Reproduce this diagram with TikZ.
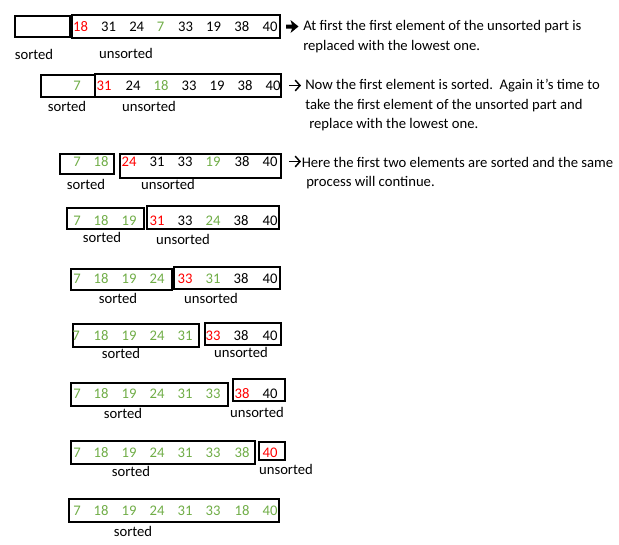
\documentclass[tikz,border=0pt]{standalone}
\usepackage{fontspec}
\setmainfont{Carlito}
\usetikzlibrary{fit,arrows.meta}
\definecolor{grn}{RGB}{112,173,71}
\definecolor{rd}{RGB}{255,0,0}
\begin{document}
\begin{tikzpicture}[x=0.75pt,y=-0.75pt,
  font=\fontsize{11}{13}\selectfont,
  box/.style={draw, line width=0.8pt, inner sep=0pt},
  num/.style={inner sep=0pt},
  lbl/.style={inner sep=0pt},
  note/.style={inner sep=0pt, anchor=west},
  thinarrow/.style={line width=1.1pt, -{Straight Barb[length=3.6pt,width=8pt,line width=1.1pt]}}]
\useasboundingbox (0,0) rectangle (619,544);

% ---------- row 1 ----------
\node[box, fit={(15,16) (70,37)}] (s1) {};
\node[box, fit={(72,15) (280,38)}] (u1) {};
\foreach \x/\c/\n [count=\i] in {80.5/rd/18,108.5/black/31,136.7/black/24,160.5/grn/7,185.5/black/33,213.5/black/19,241.8/black/38,270/black/40}
  \node[num, text=\c] (r1n\i) at (\x,27) {\n};
\node[lbl] (s1l) at (34,54) {sorted};
\node[lbl] (u1l) at (126,53) {unsorted};
\coordinate (a1) at (286,26.5);
\fill (a1) ++(0,-2) -- ++(6,0) -- ++(-1.5,-4.5) -- ++(8,6.5) -- ++(-8,6.5) -- ++(1.5,-4.5) -- ++(-6,0) -- cycle;
\node[note] (t1a) at (303,27) {At first the first element of the unsorted part is};
\node[note] (t1b) at (303,47) {replaced with the lowest one.};

% ---------- row 2 ----------
\node[box, fit={(41,75) (95,97)}] (s2) {};
\node[box, fit={(95,74) (281,97)}] (u2) {};
\foreach \x/\c/\n [count=\i] in {77/grn/7,104/rd/31,133/black/24,161/grn/18,189/black/33,217/black/19,245/black/38,273/black/40}
  \node[num, text=\c] (r2n\i) at (\x,86) {\n};
\node[lbl] (s2l) at (67,106) {sorted};
\node[lbl] (u2l) at (149,106) {unsorted};
\coordinate (a2s) at (289,85.5);
\coordinate (a2e) at (301,85.5);
\draw[thinarrow] (a2s) -- (a2e);
\node[note] (t2a) at (305,86) {Now the first element is sorted.\ \ Again it’s time to};
\node[note] (t2b) at (305,106) {take the first element of the unsorted part and};
\node[note] (t2c) at (309,125) {replace with the lowest one.};

% ---------- row 3 ----------
\node[box, fit={(60,154) (114,174)}] (s3) {};
\node[box, fit={(120,154) (281,178)}] (u3) {};
\foreach \x/\c/\n [count=\i] in {77/grn/7,101/grn/18,129/rd/24,157/black/31,185/black/33,213/grn/19,242/black/38,270/black/40}
  \node[num, text=\c] (r3n\i) at (\x,162) {\n};
\node[lbl] (s3l) at (86,184) {sorted};
\node[lbl] (u3l) at (168,184) {unsorted};
\coordinate (a3s) at (289,161.5);
\coordinate (a3e) at (301,161.5);
\draw[thinarrow] (a3s) -- (a3e);
\node[note] (t3a) at (301.5,162) {Here the first two elements are sorted and the same};
\node[note] (t3b) at (306,183) {process will continue.};

% ---------- row 4 ----------
\node[box, fit={(67,208) (144,229)}] (s4) {};
\node[box, fit={(147,206) (279,229)}] (u4) {};
\foreach \x/\c/\n [count=\i] in {77/grn/7,101/grn/18,129/grn/19,157/rd/31,185/black/33,213/grn/24,241/black/38,270/black/40}
  \node[num, text=\c] (r4n\i) at (\x,221) {\n};
\node[lbl] (s4l) at (102,237) {sorted};
\node[lbl] (u4l) at (183,239) {unsorted};

% ---------- row 5 ----------
\node[box, fit={(71,269) (172,290)}] (s5) {};
\node[box, fit={(174,267) (280,289)}] (u5) {};
\foreach \x/\c/\n [count=\i] in {77/grn/7,101/grn/18,129/grn/19,157/grn/24,185/rd/33,213/grn/31,241/black/38,270/black/40}
  \node[num, text=\c] (r5n\i) at (\x,279) {\n};
\node[lbl] (s5l) at (118,298) {sorted};
\node[lbl] (u5l) at (211,298) {unsorted};

% ---------- row 6 ----------
\node[box, fit={(73,324) (199,347)}] (s6) {};
\node[box, fit={(205,323) (281,345)}] (u6) {};
\foreach \x/\c/\n [count=\i] in {76/grn/7,101/grn/18,129/grn/19,157/grn/24,185/grn/31,213/rd/33,241/black/38,270/black/40}
  \node[num, text=\c] (r6n\i) at (\x,336) {\n};
\node[lbl] (s6l) at (121,353) {sorted};
\node[lbl] (u6l) at (241,352) {unsorted};

% ---------- row 7 ----------
\node[box, fit={(71,383) (228,406)}] (s7) {};
\node[box, fit={(233,379) (285,401)}] (u7) {};
\foreach \x/\c/\n [count=\i] in {77/grn/7,101/grn/18,129/grn/19,157/grn/24,185/grn/31,213/grn/33,242/rd/38,270/black/40}
  \node[num, text=\c] (r7n\i) at (\x,394) {\n};
\node[lbl] (s7l) at (123,413) {sorted};
\node[lbl] (u7l) at (257,412) {unsorted};

% ---------- row 8 ----------
\node[box, fit={(71,441) (255,464)}] (s8) {};
\node[box, fit={(259,442) (285,460)}] (u8) {};
\foreach \x/\c/\n [count=\i] in {77/grn/7,101/grn/18,129/grn/19,157/grn/24,185/grn/31,213/grn/33,242/grn/38,270/rd/40}
  \node[num, text=\c] (r8n\i) at (\x,453) {\n};
\node[lbl] (s8l) at (131,471) {sorted};
\node[lbl] (u8l) at (286,469) {unsorted};

% ---------- row 9 ----------
\node[box, fit={(69,499) (279,522)}] (s9) {};
\foreach \x/\c/\n [count=\i] in {77/grn/7,101/grn/18,129/grn/19,157/grn/24,185/grn/31,213/grn/33,242/grn/18,270/grn/40}
  \node[num, text=\c] (r9n\i) at (\x,511) {\n};
\node[lbl] (s9l) at (133,531) {sorted};
\end{tikzpicture}
\end{document}
